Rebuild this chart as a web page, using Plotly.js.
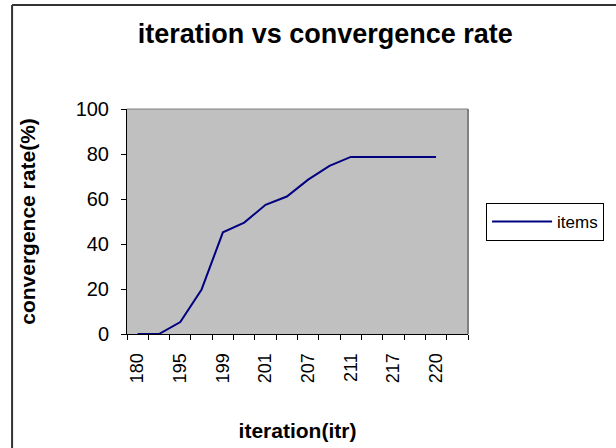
<!DOCTYPE html>
<html>
<head>
<meta charset="utf-8">
<script src="https://cdn.plot.ly/plotly-3.0.1.min.js"></script>
<style>html,body{margin:0;padding:0;background:#fff;}#chart{width:616px;height:448px;}</style>
</head>
<body>
<div id="chart"></div>
<script>
// Category labels along the x axis (16 slots; every other one is labelled)
var categories = ["180","190","195","197","199","200","201","204","207","209","211","214","217","219","220",""];
var labelledCategories = ["180","195","199","201","207","211","217","220"];
// Convergence rate (%) for the first 15 categories
var convergence = [0, 0, 5.3, 19.8, 45.2, 49.5, 57.4, 61.1, 68.6, 74.7, 78.7, 78.7, 78.7, 78.7, 78.7];

var xIdx = convergence.map(function(v, i){ return i; });
var tickVals = labelledCategories.map(function(c){ return categories.indexOf(c); });
var boundaries = categories.map(function(c, i){ return i - 0.5; }).concat([categories.length - 0.5]);

var font = "Liberation Sans, Arial, sans-serif";

var trace = {
  x: xIdx,
  y: convergence,
  type: "scatter",
  mode: "lines",
  name: "items",
  line: {color: "#000080", width: 2}
};

var layout = {
  width: 616, height: 448,
  margin: {l: 127, r: 148, t: 109, b: 114},
  paper_bgcolor: "#ffffff",
  plot_bgcolor: "#c0c0c0",
  font: {family: font, color: "#000", size: 16},
  title: {text: "<b>iteration vs convergence rate</b>", font: {family: font, size: 27, color: "#000"},
          x: 0.528, xanchor: "center", y: 0.924, yanchor: "middle"},
  xaxis: {
    range: [-0.5, categories.length - 0.5],
    tickmode: "array", tickvals: tickVals, ticktext: labelledCategories,
    ticks: "", tickangle: -90, showgrid: false, zeroline: false,
    showline: true, linecolor: "#000", linewidth: 1,
    ticklabelstandoff: 11,
    tickfont: {family: font, size: 18, color: "#000"},
    minor: {tickmode: "array", tickvals: boundaries, ticks: "outside", ticklen: 5, tickcolor: "#000", tickwidth: 1, showgrid: false},
    title: {text: "<b>iteration(itr)</b>", font: {family: font, size: 21, color: "#000"}, standoff: 41}
  },
  yaxis: {
    range: [0, 100], dtick: 20, tick0: 0,
    ticks: "outside", ticklen: 5, tickcolor: "#000",
    showgrid: false, zeroline: false,
    showline: true, linecolor: "#000", linewidth: 1,
    ticklabelstandoff: 8,
    tickfont: {family: font, size: 20, color: "#000"},
    title: {text: "<b>convergence rate(%)</b>", font: {family: font, size: 21, color: "#000"}, standoff: 34}
  },
  showlegend: true,
  legend: {
    x: 1.053, y: 0.582, xanchor: "left", yanchor: "top",
    bgcolor: "#ffffff", bordercolor: "#000", borderwidth: 1,
    itemwidth: 60,
    font: {family: font, size: 17, color: "#000"}
  },
  shapes: [
    {type: "line", xref: "paper", yref: "paper", x0: 1, x1: 1, y0: 0, y1: 1, line: {color: "#808080", width: 2}},
    {type: "line", xref: "paper", yref: "paper", x0: 0, x1: 1, y0: 1, y1: 1, line: {color: "#808080", width: 1}},
    {type: "line", xref: "paper", yref: "paper", x0: -0.337, x1: -0.337, y0: -0.55, y1: 1.462, line: {color: "#333", width: 2}},
    {type: "line", xref: "paper", yref: "paper", x0: -0.337, x1: 1.5, y0: 1.462, y1: 1.462, line: {color: "#333", width: 2}}
  ]
};

Plotly.newPlot("chart", [trace], layout, {displayModeBar: false, staticPlot: true});
</script>
</body>
</html>
